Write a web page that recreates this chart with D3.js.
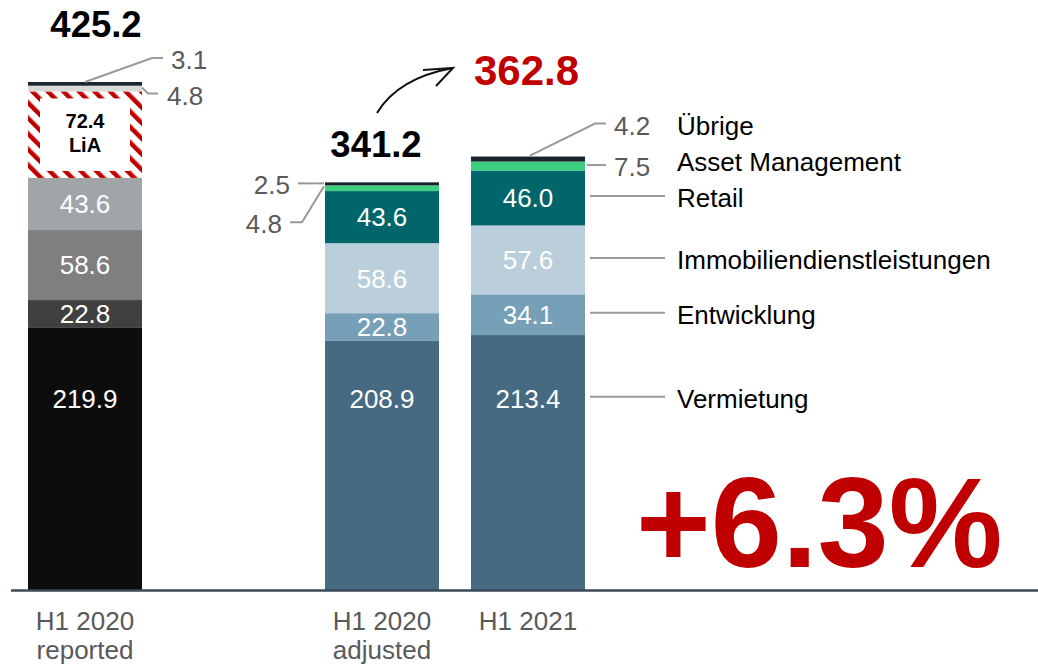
<!DOCTYPE html>
<html><head><meta charset="utf-8">
<script src="https://cdn.jsdelivr.net/npm/d3@7"></script>
<style>
html,body{margin:0;padding:0;background:#fff;}
svg{display:block;font-family:"Liberation Sans",Arial,sans-serif;}
</style></head>
<body>
<svg id="chart" width="1038" height="667"></svg>
<script>
// ---- data ----
const categories = ["H1 2020 reported", "H1 2020 adjusted", "H1 2021"];
const categoryLines = [["H1 2020", "reported"], ["H1 2020", "adjusted"], ["H1 2021"]];
const segments = ["Vermietung", "Entwicklung", "Immobiliendienstleistungen", "Retail", "LiA", "Asset Management", "Übrige"];
const reported = [219.9, 22.8, 58.6, 43.6, 72.4, 4.8, 3.1];
const adjusted = [208.9, 22.8, 58.6, 43.6, 0, 4.8, 2.5];
const h12021   = [213.4, 34.1, 57.6, 46.0, 0, 7.5, 4.2];
const totals = [425.2, 341.2, 362.8];
const totalLabels = ["425.2", "341.2", "362.8"];
const growthLabel = "+6.3%";
const legendLabels = ["Vermietung", "Entwicklung", "Immobiliendienstleistungen", "Retail", "Asset Management", "Übrige"];

// ---- styles ----
const grayColors = ["#0d0d0d", "#404040", "#7f7f7f", "#a0a5a7", "#ffffff", "#d9d9d9", "#1b2631"];
const blueColors = ["#466a82", "#769fb8", "#bacfdb", "#00666b", "#ffffff", "#3dcf80", "#18232e"];
const RED = "#c00000", LEAD = "#999999", GREY_TXT = "#595959";
const FS = 26;

const svg = d3.select("#chart");
const rows = [reported, adjusted, h12021].map((vals, i) => {
  const o = {cat: categories[i]};
  segments.forEach((s, j) => o[s] = vals[j]);
  return o;
});
const stacked = d3.stack().keys(segments)(rows);

const x = d3.scaleOrdinal().domain(categories).range([28, 325, 471]);
const barW = 114;
const y = d3.scaleLinear().domain([0, 425.2]).range([590, 82]);

// hatch pattern
const defs = svg.append("defs");
const pat = defs.append("pattern").attr("id", "hatch").attr("patternUnits", "userSpaceOnUse")
  .attr("width", 11).attr("height", 11).attr("patternTransform", "rotate(-45)");
pat.append("rect").attr("width", 11).attr("height", 11).attr("fill", "#fff");
pat.append("rect").attr("x", 0).attr("width", 4.5).attr("height", 11).attr("fill", RED);

const fmt = d3.format(".1f");

// bars
stacked.forEach((layer, j) => {
  layer.forEach((d, i) => {
    const v = d[1] - d[0];
    if (v <= 0) return;
    const colors = i === 0 ? grayColors : blueColors;
    const key = segments[j];
    const x0 = x(categories[i]);
    const yT = y(d[1]), yB = y(d[0]);
    if (key === "LiA") {
      svg.append("rect").attr("x", x0).attr("y", yT).attr("width", barW).attr("height", yB - yT).attr("fill", "url(#hatch)");
      svg.append("rect").attr("x", x0 + 12).attr("y", yT + 7).attr("width", barW - 24).attr("height", yB - yT - 14).attr("fill", "#fff");
      const cx = x0 + barW / 2;
      svg.append("text").attr("x", cx).attr("y", (yT + yB) / 2 - 7).attr("text-anchor", "middle")
        .attr("font-size", 20).attr("font-weight", "bold").attr("fill", "#000").text(fmt(v));
      svg.append("text").attr("x", cx).attr("y", (yT + yB) / 2 + 17).attr("text-anchor", "middle")
        .attr("font-size", 20).attr("font-weight", "bold").attr("fill", "#000").text("LiA");
      return;
    }
    svg.append("rect").attr("x", x0).attr("y", yT).attr("width", barW).attr("height", yB - yT)
      .attr("fill", colors[j]);
    if (v > 10) {
      const ly = j === 0 ? y(160) : (yT + yB) / 2;
      svg.append("text").attr("x", x0 + barW / 2).attr("y", ly).attr("dy", "0.36em")
        .attr("text-anchor", "middle").attr("font-size", FS).attr("fill", "#fff").text(fmt(v));
    }
  });
});

// axis baseline
svg.append("line").attr("x1", 11).attr("x2", 1038).attr("y1", y(0) + 0.5).attr("y2", y(0) + 0.5)
  .attr("stroke", "#3b4b57").attr("stroke-width", 2.5);

// category labels
categories.forEach((c, i) => {
  const cx = x(c) + barW / 2;
  categoryLines[i].forEach((ln, k) => {
    svg.append("text").attr("x", cx).attr("y", 630 + k * 29).attr("text-anchor", "middle")
      .attr("font-size", FS).attr("fill", GREY_TXT).text(ln);
  });
});

// leader helpers
function leader(pts) {
  svg.append("path").attr("d", d3.line()(pts)).attr("fill", "none").attr("stroke", LEAD).attr("stroke-width", 2);
}
function smallLabel(tx, ty, txt, anchor) {
  svg.append("text").attr("x", tx).attr("y", ty).attr("dy", "0.36em").attr("text-anchor", anchor)
    .attr("font-size", FS).attr("fill", GREY_TXT).text(txt);
}
const iAM = segments.indexOf("Asset Management"), iUe = segments.indexOf("Übrige");

// bar 1 small labels
{
  const x0 = x(categories[0]), x1 = x0 + barW, cx = x0 + barW / 2;
  const yTop = y(totals[0]);
  leader([[cx, yTop], [x1 + 10, yTop - 24], [x1 + 21, yTop - 24]]);
  smallLabel(x1 + 29, yTop - 22, fmt(reported[iUe]), "start");
  const am = stacked[iAM][0];
  const ym = (y(am[0]) + y(am[1])) / 2;
  leader([[x1, ym - 1], [x1 + 6, ym + 5], [x1 + 16, ym + 5]]);
  smallLabel(x1 + 25, ym + 7, fmt(reported[iAM]), "start");
}
// bar 2 small labels
{
  const x0 = x(categories[1]);
  const yTop = y(totals[1]);
  leader([[x0 - 1, yTop + 1], [x0 - 27, yTop + 1]]);
  smallLabel(x0 - 35, yTop + 2, fmt(adjusted[iUe]), "end");
  const am = stacked[iAM][1];
  const ym = (y(am[0]) + y(am[1])) / 2;
  leader([[x0 - 1, ym - 2], [x0 - 23, yTop + 40], [x0 - 35, yTop + 40]]);
  smallLabel(x0 - 43, yTop + 41, fmt(adjusted[iAM]), "end");
}
// bar 3 small labels + legend
{
  const x0 = x(categories[2]), x1 = x0 + barW, cx = x0 + barW / 2;
  const yTop = y(totals[2]);
  leader([[cx + 2, yTop - 1], [x1 + 10, yTop - 33], [x1 + 21, yTop - 33]]);
  smallLabel(x1 + 29, yTop - 31, fmt(h12021[iUe]), "start");
  const am = stacked[iAM][2];
  const ym = (y(am[0]) + y(am[1])) / 2;
  leader([[x1 + 2, ym - 1], [x1 + 21, ym - 1]]);
  smallLabel(x1 + 29, ym + 1, fmt(h12021[iAM]), "start");

  const mid = k => (y(stacked[k][2][0]) + y(stacked[k][2][1])) / 2;
  const legendY = {
    "Vermietung": y(160),
    "Entwicklung": mid(1),
    "Immobiliendienstleistungen": mid(2),
    "Retail": mid(3),
    "Asset Management": ym - 4,
    "Übrige": yTop - 31
  };
  legendLabels.forEach(name => {
    const ly = legendY[name];
    if (["Vermietung", "Entwicklung", "Immobiliendienstleistungen", "Retail"].includes(name)) {
      svg.append("line").attr("x1", x1 + 5).attr("x2", 665).attr("y1", ly - 2).attr("y2", ly - 2)
        .attr("stroke", LEAD).attr("stroke-width", 2);
    }
    svg.append("text").attr("x", 677).attr("y", ly).attr("dy", "0.36em").attr("font-size", FS)
      .attr("fill", "#000").text(name);
  });
}

// totals
svg.append("text").attr("x", 96).attr("y", 37).attr("text-anchor", "middle").attr("font-size", 36.5)
  .attr("font-weight", "bold").attr("fill", "#000").text(totalLabels[0]);
svg.append("text").attr("x", 376).attr("y", 157).attr("text-anchor", "middle").attr("font-size", 36.5)
  .attr("font-weight", "bold").attr("fill", "#000").text(totalLabels[1]);
svg.append("text").attr("x", 474).attr("y", 85).attr("font-size", 42)
  .attr("font-weight", "bold").attr("fill", RED).text(totalLabels[2]);

// arrow
svg.append("path").attr("d", "M377,113 Q398,78 453,68").attr("fill", "none").attr("stroke", "#111").attr("stroke-width", 2);
svg.append("path").attr("d", "M423,70 L453,68 L436,86").attr("fill", "none").attr("stroke", "#111").attr("stroke-width", 2);

// growth
svg.append("text").attr("x", 636).attr("y", 567).attr("font-size", 128).attr("font-weight", "bold")
  .attr("fill", RED).text(growthLabel);
</script>
</body></html>
